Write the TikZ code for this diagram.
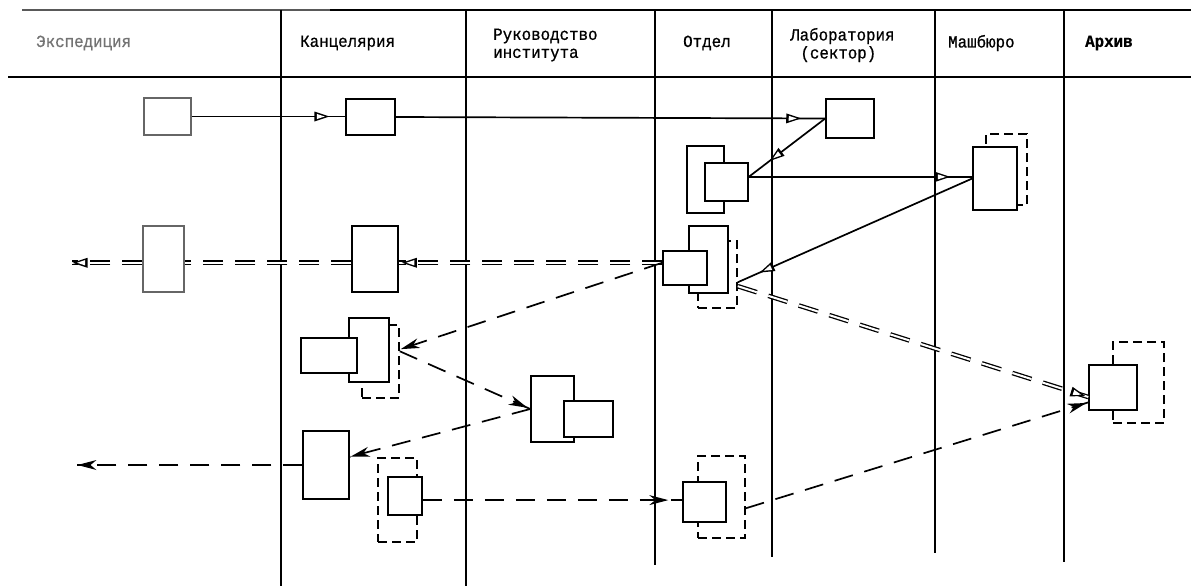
\documentclass[tikz,border=0pt]{standalone}
\usepackage{fontspec}
\setmainfont{Liberation Mono}[FakeStretch=0.93, FakeBold=0.8]
\usetikzlibrary{decorations.markings}

\tikzset{
  doc/.style={draw, line width=1.5pt, fill=white, inner sep=0pt},
  copydoc/.style={doc, dash pattern=on 9pt off 5pt},
  fadedoc/.style={doc, draw=black!60},
  lane/.style={line width=1.4pt},
  flow/.style={line width=1.7pt},
  dashflow/.style={line width=1.7pt, dash pattern=on 19pt off 12pt},
  dblflow/.style={line width=1.3pt, double, double distance=2pt, dash pattern=on 20pt off 12pt},
  openhead/.style={postaction={decorate}, decoration={markings, mark=at position -#1 with {
      \fill[black] (0pt,0pt) -- (-15pt,5pt) -- (-15pt,-5pt) -- cycle;
      \fill[white] (-4.5pt,0pt) -- (-12.5pt,2.6pt) -- (-12.5pt,-2.6pt) -- cycle;}}},
  fullhead/.style={postaction={decorate}, decoration={markings, mark=at position -#1 with {
      \fill[black] (0pt,0pt) -- (-19pt,5pt) -- (-13pt,0pt) -- (-19pt,-5pt) -- cycle;}}},
  lanehead/.style={font=\fontsize{17}{18}\selectfont, anchor=west, align=left, inner sep=0pt}
}

\begin{document}
\begin{tikzpicture}[x=1pt, y=-1pt]
  \useasboundingbox (0,0) rectangle (1191,586);

  % header and lanes
  \draw[lane, black!65] (22,10) -- (330,10);
  \draw[lane] (330,10) -- (1191,10);
  \draw[lane] (8,77) -- (1191,77);
  \draw[lane] (281,10) -- (281,586);
  \draw[lane] (466,10) -- (466,586);
  \draw[lane] (655,10) -- (655,565);
  \draw[lane] (772,10) -- (772,557);
  \draw[lane] (935,10) -- (935,553);
  \draw[lane] (1064,10) -- (1064,562);

  \node[lanehead, text=black!55] (hExp) at (36,43) {Экспедиция};
  \node[lanehead] (hKan) at (300,43) {Канцелярия};
  \node[lanehead] (hRuk) at (493,45) {Руководство\\института};
  \node[lanehead] (hOtd) at (683,43) {Отдел};
  \node[lanehead] (hLab) at (790,45) {Лаборатория\\\hspace*{0.6em}(сектор)};
  \node[lanehead] (hMash) at (948,43) {Машбюро};
  \node[lanehead, font=\fontsize{17}{18}\selectfont\bfseries] (hArch) at (1085,43) {Архив};

  % documents
  \node[fadedoc, minimum width=47, minimum height=37] (exp1) at (167.5,116.5) {};
  \node[fadedoc, minimum width=41, minimum height=66] (exp2) at (163.5,259) {};
  \coordinate (expout1) at (72,263);
  \coordinate (expout2) at (77,465);

  \node[doc, minimum width=49, minimum height=36] (kan1) at (370.5,117) {};
  \node[doc, minimum width=46, minimum height=66] (kan2) at (375,259) {};
  \node[copydoc, minimum width=37, minimum height=73] (kan3c) at (380.5,361.5) {};
  \node[doc, minimum width=40, minimum height=64] (kan3b) at (369,350) {};
  \node[doc, minimum width=56, minimum height=35] (kan3f) at (329,355.5) {};
  \node[doc, minimum width=46, minimum height=68] (kan4) at (326,465) {};
  \node[copydoc, minimum width=39, minimum height=84] (kan5c) at (397.5,500) {};
  \node[doc, minimum width=34, minimum height=38] (kan5f) at (405,496) {};

  \node[doc, minimum width=43, minimum height=66] (ruk1b) at (552.5,409) {};
  \node[doc, minimum width=49, minimum height=36] (ruk1f) at (588.5,419) {};

  \node[doc, minimum width=37, minimum height=67] (otd1b) at (705.5,179.5) {};
  \node[doc, minimum width=43, minimum height=38] (otd1f) at (726.5,182) {};
  \node[copydoc, minimum width=39, minimum height=67] (otd2c) at (717.5,274.5) {};
  \node[doc, minimum width=39, minimum height=67] (otd2b) at (708.5,259.5) {};
  \node[doc, minimum width=44, minimum height=34] (otd2f) at (685,268) {};
  \node[copydoc, minimum width=47, minimum height=82] (otd3c) at (721.5,497) {};
  \node[doc, minimum width=43, minimum height=40] (otd3f) at (704.5,502) {};

  \node[doc, minimum width=48, minimum height=39] (lab1) at (850,118.5) {};

  \node[copydoc, minimum width=41, minimum height=71] (mash1c) at (1006.5,169.5) {};
  \node[doc, minimum width=44, minimum height=63] (mash1f) at (995,178.5) {};

  \node[copydoc, minimum width=51, minimum height=81] (arch1c) at (1138.5,382.5) {};
  \node[doc, minimum width=48, minimum height=45] (arch1f) at (1113,387.5) {};

  % routes
  \draw[flow, openhead=16pt] (exp1.east) -- (exp1.east -| kan1.west);
  \draw[flow, openhead=24pt] (kan1.east) -- (lab1.west);
  \draw[flow, openhead=26pt] (lab1.west) -- (otd1f.13);
  \draw[flow, openhead=22pt] (otd1f.13) -- (otd1f.13 -| mash1f.west);
  \draw[flow, openhead=24pt] (mash1f.west) -- (otd2c.-21);

  \draw[dblflow, openhead=3pt] (otd2f.167) -- (otd2f.167 -| kan2.east);
  \draw[dblflow] (otd2f.167 -| kan2.west) -- (otd2f.167 -| exp2.east);
  \draw[dblflow, openhead=0.5pt] (otd2f.167 -| exp2.west) -- (otd2f.167 -| expout1);
  \draw[dblflow, openhead=3pt] (otd2c.-30) -- (arch1f.201);

  \draw[dashflow, fullhead=1pt] (otd2f.167) -- (kan3c.32);
  \draw[dashflow, fullhead=3pt] (kan3c.28) -- (ruk1b.west);
  \draw[dashflow, fullhead=1pt] (ruk1b.west) -- (kan4.19);
  \draw[dashflow, fullhead=0.5pt] (kan4.west) -- (kan4.west -| expout2);
  \draw[dashflow, fullhead=14pt] (kan5f.-13) -- (kan5f.-13 -| otd3f.west);
  \draw[dashflow, fullhead=2pt] (otd3c.-25) -- (arch1f.211);
\end{tikzpicture}
\end{document}
